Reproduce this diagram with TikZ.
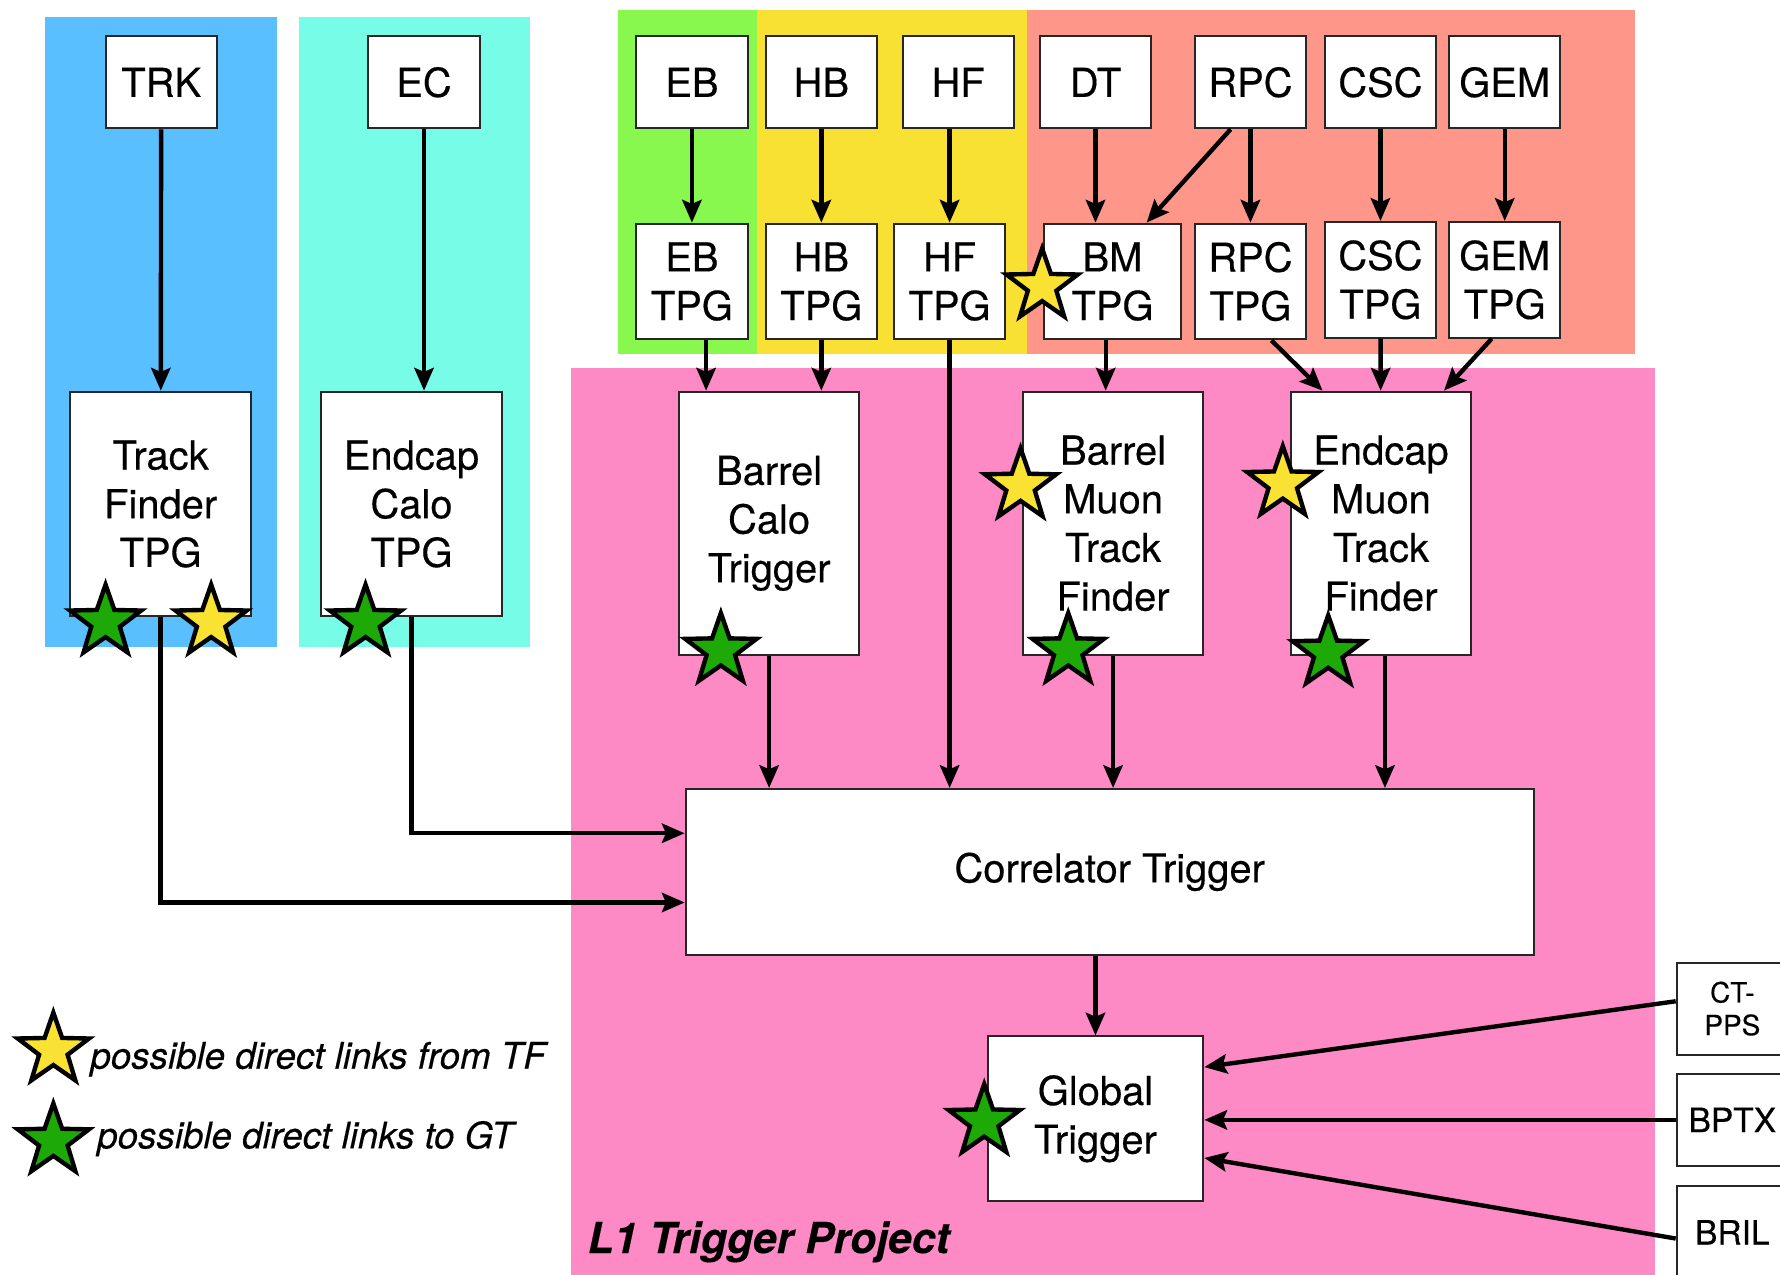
\documentclass[tikz,border=0pt]{standalone}
\usepackage{fontspec}
\setmainfont{TeX Gyre Heros}[FakeBold=0.35]
\usetikzlibrary{arrows.meta,positioning,shapes.geometric}
\definecolor{trkblue}{HTML}{5ABFFE}
\definecolor{eccyan}{HTML}{77FCE7}
\definecolor{ebgreen}{HTML}{88F84E}
\definecolor{hcalyellow}{HTML}{F8E133}
\definecolor{muonsalmon}{HTML}{FE968A}
\definecolor{lonepink}{HTML}{FE8AC5}
\definecolor{staryellow}{HTML}{F9E231}
\definecolor{stargreen}{HTML}{1DAA07}

\begin{document}
\begin{tikzpicture}[
    box/.style={draw=black!85, fill=white, line width=0.5pt, align=center, inner sep=0pt, minimum width=0.98cm, font=\fontsize{10}{12.2}\selectfont},
    det/.style={box, minimum height=0.81cm},
    tpg/.style={box, minimum height=1.02cm},
    big/.style={box, minimum width=1.59cm},
    ext/.style={box, minimum height=0.81cm, font=\fontsize{8.4}{10}\selectfont},
    arrow/.style={-{Stealth[length=2mm,width=1.7mm,inset=0.35mm]}, line width=1.1pt},
    tfstar/.style={star, star points=5, star point ratio=2.5, minimum size=6.6mm, inner sep=0pt, draw, line width=1.1pt, fill=staryellow},
    gtstar/.style={tfstar, fill=stargreen}
]
\useasboundingbox (0,0) rectangle (15.68,-11.23);

% Subsystem areas
\fill[trkblue] (0.40,-0.15) rectangle (2.44,-5.70);
\fill[eccyan] (2.63,-0.15) rectangle (4.67,-5.70);
\fill[ebgreen] (5.44,-0.09) rectangle (6.67,-3.12);
\fill[hcalyellow] (6.67,-0.09) rectangle (9.05,-3.12);
\fill[muonsalmon] (9.05,-0.09) rectangle (14.40,-3.12);
\fill[lonepink] (5.03,-3.24) rectangle (14.58,-11.23);

% Detectors
\node[det] (trk) at (1.42,-0.725) {TRK};
\node[det] (ec) at (3.735,-0.725) {EC};
\node[det] (eb) at (6.095,-0.725) {EB};
\node[det] (hb) at (7.235,-0.725) {HB};
\node[det] (hf) at (8.44,-0.725) {HF};
\node[det] (dt) at (9.65,-0.725) {DT};
\node[det] (rpc) at (11.015,-0.725) {RPC};
\node[det] (csc) at (12.16,-0.725) {CSC};
\node[det] (gem) at (13.255,-0.725) {GEM};

% Trigger primitive generators
\node[tpg] (ebtpg) at (6.095,-2.48) {EB\\TPG};
\node[tpg] (hbtpg) at (7.235,-2.48) {HB\\TPG};
\node[tpg] (hftpg) at (8.365,-2.48) {HF\\TPG};
\node[tpg, minimum width=1.2cm] (bmtpg) at (9.8,-2.48) {BM\\TPG};
\node[tpg] (rpctpg) at (11.015,-2.48) {RPC\\TPG};
\node[tpg] (csctpg) at (12.16,-2.465) {CSC\\TPG};
\node[tpg] (gemtpg) at (13.255,-2.465) {GEM\\TPG};
\node[big, minimum height=1.98cm] (tftpg) at (1.415,-4.44) {Track\\Finder\\TPG};
\node[big, minimum height=1.98cm] (ectpg) at (3.625,-4.44) {Endcap\\Calo\\TPG};

% L1 trigger
\node[big, minimum height=2.32cm] (bct) at (6.775,-4.61) {Barrel\\Calo\\Trigger};
\node[big, minimum height=2.32cm] (bmtf) at (9.805,-4.61) {Barrel\\Muon\\Track\\Finder};
\node[big, minimum height=2.32cm] (emtf) at (12.165,-4.61) {Endcap\\Muon\\Track\\Finder};
\node[box, minimum width=7.47cm, minimum height=1.46cm] (corr) at (9.775,-7.68) {Correlator Trigger};
\node[box, minimum width=1.9cm, minimum height=1.45cm] (gt) at (9.65,-9.855) {Global\\Trigger};
\node[anchor=west, inner sep=0pt, font=\fontsize{10.7}{12}\selectfont\bfseries\itshape] (l1) at (5.17,-10.94) {L1 Trigger Project};

% External inputs
\node[ext, font=\fontsize{7}{8.2}\selectfont] (ctpps) at (15.26,-8.885) {CT-\\PPS};
\node[ext] (bptx) at (15.26,-9.865) {BPTX};
\node[ext] (bril) at (15.26,-10.855) {BRIL};

% Arrows
\draw[arrow] (trk) -- (tftpg);
\draw[arrow] (ec) -- (ec |- ectpg.north);
\draw[arrow] (eb) -- (ebtpg);
\draw[arrow] (hb) -- (hbtpg);
\draw[arrow] (hftpg.north |- hf.south) -- (hftpg.north);
\draw[arrow] (dt) -- (dt |- bmtpg.north);
\draw[arrow] ([xshift=-1.75mm]rpc.south) -- ([xshift=3mm]bmtpg.north);
\draw[arrow] (rpc) -- (rpctpg);
\draw[arrow] (csc) -- (csctpg);
\draw[arrow] (gem) -- (gemtpg);
\draw[arrow] ([xshift=1.25mm]ebtpg.south) -- ([xshift=1.25mm]ebtpg.south |- bct.north);
\draw[arrow] (hbtpg.south) -- (hbtpg.south |- bct.north);
\draw[arrow] (hftpg.south) -- (hftpg.south |- corr.north);
\draw[arrow] ([xshift=-0.6mm]bmtpg.south) -- ([xshift=-0.6mm]bmtpg.south |- bmtf.north);
\draw[arrow] ([xshift=1.85mm]rpctpg.south) -- ([xshift=-5.15mm]emtf.north);
\draw[arrow] (csctpg) -- (emtf);
\draw[arrow] ([xshift=-1.15mm]gemtpg.south) -- ([xshift=5.55mm]emtf.north);
\draw[arrow] (tftpg.south) |- ([yshift=-2.7mm]corr.west);
\draw[arrow] (ectpg.south) |- ([yshift=3.4mm]corr.west);
\draw[arrow] (bct.south) -- (bct.south |- corr.north);
\draw[arrow] (bmtf.south) -- (bmtf.south |- corr.north);
\draw[arrow] ([xshift=0.35mm]emtf.south) -- ([xshift=0.35mm]emtf.south |- corr.north);
\draw[arrow] (gt.north |- corr.south) -- (gt.north);
\draw[arrow] ([yshift=0.65mm]ctpps.west) -- ([yshift=4.55mm]gt.east);
\draw[arrow] (bptx.west) -- (bptx.west -| gt.east);
\draw[arrow] ([yshift=-0.55mm]bril.west) -- ([yshift=-3.45mm]gt.east);

% Direct links
\node[gtstar] (tfgt) at (0.93,-5.48) {};
\node[tfstar] (tftf) at (1.86,-5.48) {};
\node[gtstar] (ecgt) at (3.22,-5.48) {};
\node[tfstar] (bmtpgtf) at (9.18,-2.52) {};
\node[tfstar] (bmtftf) at (8.99,-4.28) {};
\node[tfstar] (emtftf) at (11.30,-4.26) {};
\node[gtstar] (bctgt) at (6.35,-5.73) {};
\node[gtstar] (bmtfgt) at (9.41,-5.73) {};
\node[gtstar] (emtfgt) at (11.70,-5.75) {};
\node[gtstar] (gtgt) at (8.67,-9.88) {};

% Legend
\node[tfstar] (tfkey) at (0.47,-9.25) {};
\node[gtstar] (gtkey) at (0.47,-10.05) {};
\node[anchor=west, inner sep=0pt, font=\fontsize{9.2}{11}\selectfont\itshape] (tflink) at (0.79,-9.33) {possible direct links from TF};
\node[anchor=west, inner sep=0pt, font=\fontsize{9.2}{11}\selectfont\itshape] (gtlink) at (0.85,-10.03) {possible direct links to GT};
\end{tikzpicture}
\end{document}
